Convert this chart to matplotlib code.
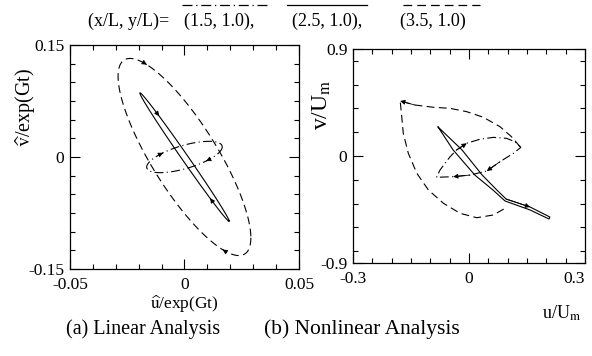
import numpy as np
import matplotlib
matplotlib.use("Agg")
import matplotlib.pyplot as plt
from matplotlib.lines import Line2D
from matplotlib.ticker import MultipleLocator

plt.rcParams['font.family'] = ['Liberation Serif', 'DejaVu Serif']
plt.rcParams['mathtext.fontset'] = 'stix'

# ---- data ----
stations = ['(1.5, 1.0),', '(2.5, 1.0),', '(3.5, 1.0)']
styles = [(0, (8, 3, 1, 3)), '-', (0, (7, 4))]

# linear analysis: u = A cos(wt), v = B cos(wt + phase)
lin_u_amp = [0.0165, 0.0195, 0.029]
lin_v_amp = [0.021, 0.086, 0.132]
lin_phase_deg = [50, 175, 145]

# nonlinear analysis: orbits
nl_u_15 = [-0.032, -0.006, 0.028, 0.063, 0.097, 0.119, 0.134, 0.115, 0.080,
           0.046, 0.003, -0.041, -0.084, -0.075, -0.062, -0.049, -0.032]
nl_v_15 = [0.051, 0.107, 0.141, 0.157, 0.149, 0.120, 0.073, 0.023, -0.048,
           -0.126, -0.160, -0.174, -0.179, -0.118, -0.061, -0.006, 0.051]

nl_u_25 = [-0.080, -0.018, 0.034, 0.072, 0.096, 0.158, 0.209,
           0.207, 0.158, 0.093, 0.062, 0.015, -0.041, -0.080]
nl_v_25 = [0.244, 0.051, -0.160, -0.286, -0.362, -0.429, -0.513,
           -0.530, -0.454, -0.378, -0.286, -0.160, 0.051, 0.244]

nl_u_35 = [0.132, 0.110, 0.080, 0.037, -0.006, -0.049, -0.092, -0.140,
           -0.178, -0.174, -0.170, -0.157, -0.135, -0.105, -0.066, -0.023,
           0.020, 0.063, 0.093]
nl_v_35 = [0.078, 0.162, 0.247, 0.326, 0.373, 0.401, 0.410, 0.429,
           0.463, 0.331, 0.191, 0.023, -0.145, -0.286, -0.398, -0.482,
           -0.519, -0.496, -0.440]


def add_arrow(ax, x, y, i):
    ax.annotate('', xy=(x[i + 1], y[i + 1]), xytext=(x[i], y[i]),
                arrowprops=dict(arrowstyle='-|>', color='k', lw=0.6,
                                mutation_scale=7, shrinkA=0, shrinkB=0))


def style_axes(ax):
    ax.tick_params(which='both', direction='in', top=True, right=True,
                   labelsize=12.5, width=0.8, pad=4)
    ax.tick_params(axis='x', which='major', pad=6)
    ax.tick_params(which='major', length=7)
    ax.tick_params(which='minor', length=3.5)
    for s in ax.spines.values():
        s.set_linewidth(0.9)


fig = plt.figure(figsize=(5.92, 3.56), dpi=100)
ax1 = fig.add_axes([0.1182, 0.2444, 0.3868, 0.6292])
ax2 = fig.add_axes([0.5963, 0.2612, 0.3919, 0.6011])

# (a) linear analysis
t = np.linspace(0, 2 * np.pi, 400)
for a, b, ph, ls in zip(lin_u_amp, lin_v_amp, lin_phase_deg, styles):
    u = a * np.cos(t)
    v = b * np.cos(t + np.radians(ph))
    ax1.plot(u, v, color='k', lw=0.8, ls=ls)
    for i in (60, 260):
        add_arrow(ax1, u, v, i)

ax1.set_xlim(-0.05, 0.05)
ax1.set_ylim(-0.15, 0.15)
ax1.set_xticks([-0.05, 0, 0.05])
ax1.set_xticklabels(['-0.05', '0', '0.05'])
ax1.set_yticks([-0.15, 0, 0.15])
ax1.set_yticklabels(['-0.15', '0', '0.15'])
ax1.xaxis.set_minor_locator(MultipleLocator(0.01))
ax1.yaxis.set_minor_locator(MultipleLocator(0.025))
style_axes(ax1)
ax1.set_xlabel(r'$\widehat{\mathrm{u}}$/exp(Gt)', fontsize=12.5)
ax1.xaxis.set_label_coords(0.5, -0.112)
ax1.set_ylabel(r'$\widehat{\mathrm{v}}$/exp(Gt)', fontsize=14.5)
ax1.yaxis.set_label_coords(-0.14, 0.72)

# (b) nonlinear analysis
nl = [(nl_u_15, nl_v_15), (nl_u_25, nl_v_25), (nl_u_35, nl_v_35)]
for (u, v), ls in zip(nl, styles):
    ax2.plot(u, v, color='k', lw=0.8, ls=ls)
add_arrow(ax2, nl_u_15, nl_v_15, 0)
add_arrow(ax2, nl_u_15, nl_v_15, 8)
add_arrow(ax2, nl_u_15, nl_v_15, 10)
add_arrow(ax2, nl_u_25, nl_v_25, 4)
add_arrow(ax2, nl_u_35, nl_v_35, 7)

ax2.set_xlim(-0.3, 0.3)
ax2.set_ylim(-0.9, 0.9)
ax2.set_xticks([-0.3, 0, 0.3])
ax2.set_xticklabels(['-0.3', '0', '0.3'])
ax2.get_xticklabels()[-1].set_horizontalalignment('right')
ax2.set_yticks([-0.9, 0, 0.9])
ax2.set_yticklabels(['-0.9', '0', '0.9'])
ax2.xaxis.set_minor_locator(MultipleLocator(0.05))
ax2.yaxis.set_minor_locator(MultipleLocator(0.2))
style_axes(ax2)
ax2.set_xlabel(r'u/U$_\mathrm{m}$', fontsize=13)
ax2.xaxis.set_label_coords(0.9, -0.19)
ax2.set_ylabel(r'v/U$_\mathrm{m}$', fontsize=17)
ax2.yaxis.set_label_coords(-0.085, 0.74)

# legend-like header
fig.text(88 / 592, 1 - 21 / 356, '(x/L, y/L)=', fontsize=13, va='center')
label_x = [184, 292, 400]
line_x = [(182, 270), (287, 367), (403, 480)]
for lx, (x0, x1), lab, ls in zip(label_x, line_x, stations, styles):
    fig.text(lx / 592, 1 - 21 / 356, lab, fontsize=13, va='center')
    fig.add_artist(Line2D([x0 / 592, x1 / 592], [1 - 5 / 356, 1 - 5 / 356],
                          color='k', lw=0.9, ls=ls))

fig.text(143 / 592, 1 - 329 / 356, '(a) Linear Analysis', fontsize=14.5,
         ha='center', va='center')
fig.text(362 / 592, 1 - 329 / 356, '(b) Nonlinear Analysis', fontsize=15.5,
         ha='center', va='center')

fig.savefig('out.png', dpi=100)
